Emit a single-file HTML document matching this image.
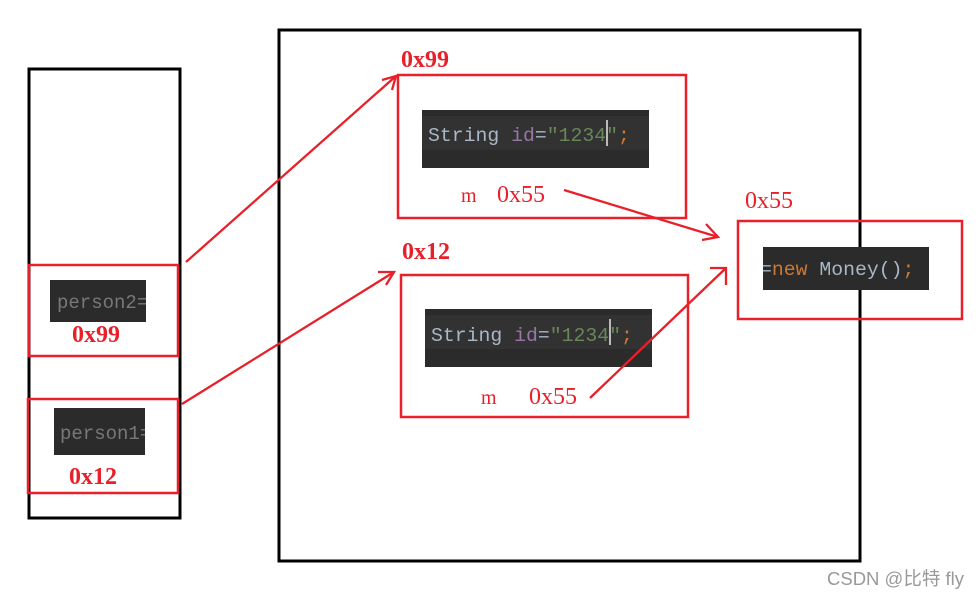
<!DOCTYPE html>
<html><head><meta charset="utf-8"><style>
html,body{margin:0;padding:0;background:#fff;width:980px;height:597px;overflow:hidden}
</style></head><body>
<svg width="980" height="597" viewBox="0 0 980 597" xmlns="http://www.w3.org/2000/svg">
<rect x="0" y="0" width="980" height="597" fill="#fff"/>
<rect x="29" y="69" width="151" height="449" fill="none" stroke="#000" stroke-width="3"/>
<rect x="279" y="30" width="581" height="531" fill="none" stroke="#000" stroke-width="3"/>

<!-- stack items -->
<rect x="50" y="280" width="96" height="42" fill="#2b2b2b"/>
<text x="57" y="308" font-family="Liberation Mono, monospace" font-size="19" fill="#787878">person2=</text>
<rect x="146" y="278" width="20" height="46" fill="#fff"/>
<rect x="29" y="265" width="149" height="91" fill="none" stroke="#e8202a" stroke-width="2.5"/>
<text x="72" y="342" font-family="Liberation Serif, serif" font-weight="bold" font-size="24" fill="#e8202a">0x99</text>

<rect x="54" y="408" width="91" height="47" fill="#2b2b2b"/>
<text x="60" y="439" font-family="Liberation Mono, monospace" font-size="19" fill="#787878">person1=</text>
<rect x="145" y="406" width="20" height="50" fill="#fff"/>
<rect x="28" y="399" width="150" height="94" fill="none" stroke="#e8202a" stroke-width="2.5"/>
<text x="69" y="484" font-family="Liberation Serif, serif" font-weight="bold" font-size="24" fill="#e8202a">0x12</text>

<!-- obj 0x99 -->
<text x="401" y="67" font-family="Liberation Serif, serif" font-weight="bold" font-size="24" fill="#e8202a">0x99</text>
<rect x="398" y="75" width="288" height="143" fill="none" stroke="#e8202a" stroke-width="2.5"/>
<rect x="422" y="110" width="227" height="58" fill="#2b2b2b"/>
<rect x="422" y="116" width="227" height="34" fill="#323232"/>
<text x="428" y="141" font-family="Liberation Mono, monospace" font-size="19.8" xml:space="preserve"><tspan fill="#a9b7c6">String </tspan><tspan fill="#9876aa">id</tspan><tspan fill="#a9b7c6">=</tspan><tspan fill="#6a8759">"1234"</tspan><tspan fill="#cc7832">;</tspan></text>
<rect x="606" y="120" width="2" height="26" fill="#bbb"/>
<text x="461" y="202" font-family="Liberation Serif, serif" font-size="20" fill="#e8202a">m</text>
<text x="497" y="202" font-family="Liberation Serif, serif" font-size="24" fill="#e8202a">0x55</text>

<!-- obj 0x12 -->
<text x="402" y="259" font-family="Liberation Serif, serif" font-weight="bold" font-size="24" fill="#e8202a">0x12</text>
<rect x="401" y="275" width="287" height="142" fill="none" stroke="#e8202a" stroke-width="2.5"/>
<rect x="425" y="309" width="227" height="58" fill="#2b2b2b"/>
<rect x="425" y="315" width="227" height="34" fill="#323232"/>
<text x="431" y="341" font-family="Liberation Mono, monospace" font-size="19.8" xml:space="preserve"><tspan fill="#a9b7c6">String </tspan><tspan fill="#9876aa">id</tspan><tspan fill="#a9b7c6">=</tspan><tspan fill="#6a8759">"1234"</tspan><tspan fill="#cc7832">;</tspan></text>
<rect x="609" y="319" width="2" height="26" fill="#bbb"/>
<text x="481" y="404" font-family="Liberation Serif, serif" font-size="20" fill="#e8202a">m</text>
<text x="529" y="404" font-family="Liberation Serif, serif" font-size="24" fill="#e8202a">0x55</text>

<!-- money -->
<text x="745" y="208" font-family="Liberation Serif, serif" font-size="24" fill="#e8202a">0x55</text>
<rect x="763" y="247" width="166" height="43" fill="#2b2b2b"/>
<text x="760" y="275" font-family="Liberation Mono, monospace" font-size="19.8" xml:space="preserve"><tspan fill="#a9b7c6">=</tspan><tspan fill="#cc7832">new </tspan><tspan fill="#a9b7c6">Money()</tspan><tspan fill="#cc7832">;</tspan></text>
<rect x="755" y="247" width="8" height="43" fill="#fff"/>
<rect x="738" y="221" width="224" height="98" fill="none" stroke="#e8202a" stroke-width="2.5"/>

<!-- arrows -->
<g stroke="#e8202a" stroke-width="2.3" fill="none">
<line x1="186" y1="262" x2="396" y2="76"/>
<polyline points="382,80 396,76 392,90"/>
<line x1="182" y1="404" x2="394" y2="272"/>
<polyline points="378,272 394,272 386,285"/>
<line x1="564" y1="190" x2="718" y2="237"/>
<polyline points="706,224 718,237 702,240"/>
<line x1="590" y1="398" x2="726" y2="268"/>
<polyline points="710,268 726,268 726,285"/>
</g>

<text x="827" y="585" font-family="Liberation Sans, Noto Sans CJK SC, sans-serif" font-size="18.5" fill="#999">CSDN @比特 fly</text>
</svg>
</body></html>
